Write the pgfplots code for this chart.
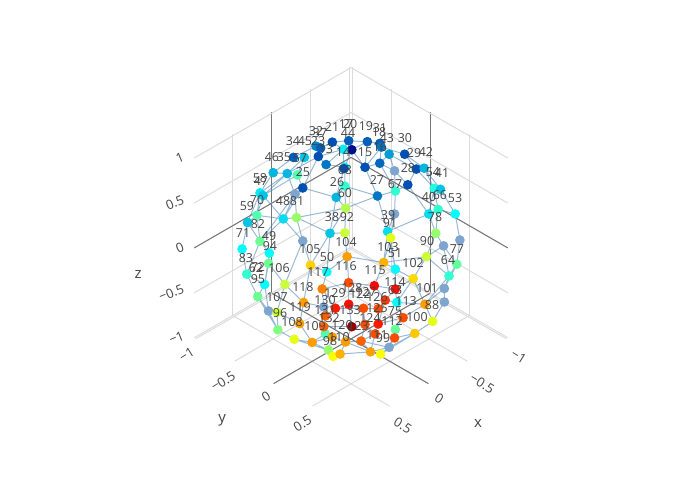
\documentclass[border=0pt]{standalone}
\usepackage{fontspec}
\setmainfont{Open Sans}
\usepackage{pgfplots}
\pgfplotsset{compat=1.18}
\definecolor{txt}{HTML}{444444}
\definecolor{gridc}{HTML}{DCDCDC}
\definecolor{zeroc}{HTML}{777777}
\definecolor{edgec}{RGB}{70,130,180}
\definecolor{steel}{RGB}{125,165,205}
\begin{document}
\begin{tikzpicture}
\begin{axis}[
  x={(-38.89pt,-22.45pt)}, y={(38.89pt,-22.45pt)}, z={(0pt,44.91pt)},
  xmin=-1.02, xmax=0.995, ymin=-1.02, ymax=0.995, zmin=-1.001, zmax=1.02,
  xtick={-1,-0.5,0,0.5}, xticklabels={−1,−0.5,0,0.5},
  ytick={-1,-0.5,0,0.5}, yticklabels={−1,−0.5,0,0.5},
  ztick={-1,-0.5,0,0.5,1}, zticklabels={−1,−0.5,0,0.5,1},
  extra x ticks={0}, extra x tick labels={}, extra x tick style={major grid style={zeroc,line width=0.5pt}},
  extra y ticks={0}, extra y tick labels={}, extra y tick style={major grid style={zeroc,line width=0.5pt}},
  extra z ticks={0}, extra z tick labels={}, extra z tick style={major grid style={zeroc,line width=0.5pt}},
  grid=major, major grid style={gridc, line width=0.5pt},
  axis line style={draw=none}, major tick length=0pt,
  ticklabel style={font=\fontsize{6.5}{7.5}\selectfont, text=txt},
  x tick label style={rotate=-32, xshift=2pt},
  y tick label style={rotate=32},
  z tick label style={rotate=22},
  clip=false,
  colormap={pjet}{rgb255(0cm)=(0,0,131); rgb255(1cm)=(0,60,170); rgb255(3cm)=(5,255,255); rgb255(5cm)=(255,255,0); rgb255(7cm)=(250,0,0); rgb255(8cm)=(128,0,0)},
  point meta min=0, point meta max=1,
]
% mesh edges
\addplot3[edgec, opacity=0.55, line width=0.5pt, mark=none, unbounded coords=jump] table {
x y z
0.31 -0.69 0.66
0.14 -0.60 0.79
-0.06 -0.51 0.86
-0.01 -0.40 0.92
-0.18 -0.42 0.89
-0.29 -0.32 0.90
-0.40 -0.19 0.90
-0.52 -0.15 0.84
-0.42 -0.03 0.91
-0.62 0.07 0.78
-0.68 0.26 0.69
-0.68 0.47 0.56
-0.75 0.59 0.31
-0.67 0.73 0.13
-0.49 0.87 0.02
-0.23 0.97 -0.07
-0.28 0.92 -0.27
-0.19 0.86 -0.47
0.05 0.87 -0.48
0.26 0.64 -0.72
0.44 0.69 -0.58
0.63 0.49 -0.61
0.60 0.37 -0.71
0.72 0.43 -0.55
0.83 0.10 -0.54
0.87 -0.07 -0.50
0.96 -0.24 -0.17
0.88 -0.46 -0.07
0.78 -0.62 0.08
0.72 -0.61 0.35
0.53 -0.64 0.57
0.31 -0.69 0.66
nan nan nan
0.38 -0.44 0.81
0.13 -0.29 0.95
0.19 -0.13 0.97
-0.08 -0.18 0.98
-0.13 -0.12 0.98
-0.01 0.17 0.99
-0.18 0.19 0.96
-0.37 0.12 0.93
-0.52 0.32 0.79
-0.56 0.51 0.65
-0.42 0.70 0.58
-0.27 0.73 0.62
-0.24 0.85 0.48
-0.29 0.90 0.34
-0.30 0.96 0.03
0.04 0.99 -0.10
0.28 0.95 -0.15
0.33 0.90 -0.28
0.30 0.86 -0.41
0.28 0.77 -0.57
0.59 0.72 -0.37
0.69 0.62 -0.38
0.78 0.54 -0.32
0.82 0.49 -0.29
0.83 0.33 -0.46
0.94 0.28 -0.22
0.98 0.03 -0.20
0.96 -0.10 -0.26
0.99 -0.12 0.04
0.96 -0.10 0.27
0.93 -0.12 0.36
0.88 -0.29 0.38
0.72 -0.49 0.49
0.58 -0.55 0.61
0.38 -0.44 0.81
nan nan nan
0.49 -0.13 0.86
0.41 0.22 0.89
0.28 0.20 0.94
0.12 0.46 0.88
-0.07 0.50 0.86
0.09 0.65 0.76
0.24 0.71 0.67
0.31 0.88 0.37
0.35 0.92 0.19
0.45 0.89 0.10
0.51 0.86 0.02
0.50 0.85 -0.16
0.50 0.81 -0.29
0.60 0.78 -0.15
0.69 0.70 -0.17
0.85 0.50 -0.19
0.85 0.52 -0.06
0.86 0.51 0.04
0.94 0.33 0.04
0.98 0.13 0.16
0.80 0.18 0.58
0.75 -0.12 0.65
0.56 -0.16 0.81
0.49 -0.13 0.86
nan nan nan
0.42 0.35 0.84
0.55 0.47 0.69
0.63 0.58 0.52
0.69 0.66 0.30
0.72 0.69 0.09
0.62 0.78 0.04
0.80 0.60 0.04
0.85 0.48 0.22
0.79 0.48 0.38
0.85 0.33 0.41
0.64 0.37 0.68
0.42 0.35 0.84
nan nan nan
-0.29 -0.32 0.90
-0.13 -0.12 0.98
0.12 0.04 0.99
0.28 0.20 0.94
0.42 0.35 0.84
nan nan nan
0.63 0.58 0.52
0.39 0.81 0.45
0.52 0.82 0.26
0.69 0.66 0.30
nan nan nan
0.72 0.69 0.09
0.69 0.70 -0.17
0.69 0.62 -0.38
0.63 0.49 -0.61
nan nan nan
-0.18 -0.42 0.89
-0.08 -0.18 0.98
0.14 0.05 0.99
0.41 0.22 0.89
0.64 0.37 0.68
0.79 0.48 0.38
0.85 0.48 0.22
0.86 0.51 0.04
0.85 0.52 -0.06
0.85 0.50 -0.19
0.78 0.54 -0.32
0.72 0.43 -0.55
nan nan nan
-0.01 -0.40 0.92
0.13 -0.29 0.95
0.49 -0.13 0.86
0.75 -0.12 0.65
0.80 0.18 0.58
0.85 0.33 0.41
0.94 0.33 0.04
0.94 0.28 -0.22
0.83 0.33 -0.46
0.83 0.10 -0.54
nan nan nan
0.14 -0.60 0.79
0.16 -0.44 0.88
0.38 -0.44 0.81
0.56 -0.16 0.81
0.88 -0.29 0.38
0.93 -0.12 0.36
0.96 -0.10 0.27
0.98 0.13 0.16
0.98 0.03 -0.20
0.87 -0.07 -0.50
nan nan nan
-0.40 -0.19 0.90
-0.01 0.17 0.99
0.12 0.46 0.88
0.24 0.71 0.67
0.39 0.81 0.45
0.52 0.82 0.26
0.45 0.89 0.10
0.50 0.85 -0.16
0.50 0.81 -0.29
0.44 0.69 -0.58
nan nan nan
-0.42 -0.03 0.91
-0.18 0.19 0.96
-0.07 0.50 0.86
0.09 0.65 0.76
0.24 0.75 0.62
0.31 0.88 0.37
0.35 0.92 0.19
0.35 0.94 0.05
0.28 0.95 -0.15
0.33 0.90 -0.28
0.28 0.77 -0.57
0.26 0.64 -0.72
nan nan nan
-0.62 0.07 0.78
-0.52 0.32 0.79
-0.24 0.49 0.84
-0.27 0.73 0.62
-0.24 0.85 0.48
-0.04 0.93 0.36
0.16 0.96 0.23
0.04 0.99 -0.10
-0.19 0.86 -0.47
0.05 0.87 -0.48
nan nan nan
-0.68 0.26 0.69
-0.56 0.51 0.65
-0.42 0.70 0.58
-0.75 0.59 0.31
nan nan nan
-0.29 0.90 0.34
-0.49 0.87 0.02
-0.30 0.96 0.03
-0.23 0.97 -0.07
nan nan nan
0.53 -0.64 0.57
0.72 -0.49 0.49
0.72 -0.61 0.35
0.88 -0.29 0.38
0.88 -0.46 -0.07
0.99 -0.12 0.04
0.96 -0.24 -0.17
0.96 -0.10 -0.26
0.87 -0.07 -0.50
nan nan nan
0.58 -0.55 0.61
0.75 -0.12 0.65
0.71 0.01 0.71
0.42 0.35 0.84
nan nan nan
0.16 -0.44 0.88
0.39 -0.30 0.87
0.49 -0.13 0.86
nan nan nan
0.51 0.86 0.02
0.62 0.78 0.04
0.60 0.78 -0.15
0.59 0.72 -0.37
0.44 0.69 -0.58
nan nan nan
0.30 0.86 -0.41
0.05 0.87 -0.48
nan nan nan
-0.37 0.12 0.93
-0.23 0.33 0.92
-0.24 0.49 0.84
nan nan nan
0.24 0.75 0.62
0.39 0.81 0.45
-0.04 0.93 0.36
-0.29 0.90 0.34
nan nan nan
0.16 0.96 0.23
0.35 0.94 0.05
0.04 0.99 -0.10
nan nan nan
0.71 0.01 0.71
0.80 0.18 0.58
nan nan nan
0.85 0.50 -0.19
0.69 0.70 -0.17
nan nan nan
0.82 0.49 -0.29
0.85 0.52 -0.06
nan nan nan
-0.06 -0.51 0.86
0.13 -0.29 0.95
-0.08 -0.18 0.98
-0.29 -0.32 0.90
nan nan nan
-0.40 -0.19 0.90
-0.13 -0.12 0.98
-0.01 0.17 0.99
-0.42 -0.03 0.91
nan nan nan
0.19 -0.13 0.97
0.12 0.04 0.99
0.28 0.20 0.94
0.41 0.22 0.89
0.42 0.35 0.84
0.64 0.37 0.68
nan nan nan
0.31 -0.69 0.66
0.38 -0.44 0.81
0.53 -0.64 0.57
0.58 -0.55 0.61
0.39 -0.30 0.87
0.49 -0.13 0.86
0.56 -0.16 0.81
nan nan nan
0.72 -0.49 0.49
0.75 -0.12 0.65
0.88 -0.29 0.38
nan nan nan
0.93 -0.12 0.36
0.99 -0.12 0.04
0.96 -0.10 0.27
nan nan nan
0.98 0.13 0.16
0.94 0.33 0.04
0.86 0.51 0.04
nan nan nan
0.96 -0.10 -0.26
0.98 0.03 -0.20
0.94 0.28 -0.22
nan nan nan
0.87 -0.07 -0.50
0.83 0.10 -0.54
0.72 0.43 -0.55
0.83 0.33 -0.46
0.78 0.54 -0.32
nan nan nan
0.85 0.52 -0.06
0.80 0.60 0.04
0.51 0.86 0.02
nan nan nan
0.69 0.70 -0.17
0.60 0.78 -0.15
0.62 0.78 0.04
0.72 0.69 0.09
nan nan nan
0.52 0.82 0.26
0.35 0.92 0.19
0.16 0.96 0.23
0.31 0.88 0.37
0.39 0.81 0.45
nan nan nan
-0.04 0.93 0.36
0.16 0.96 0.23
nan nan nan
0.45 0.89 0.10
0.35 0.94 0.05
0.28 0.95 -0.15
0.50 0.85 -0.16
0.50 0.81 -0.29
nan nan nan
0.50 0.81 -0.29
0.59 0.72 -0.37
0.69 0.62 -0.38
0.44 0.69 -0.58
0.28 0.77 -0.57
0.05 0.87 -0.48
nan nan nan
-0.23 0.97 -0.07
0.04 0.99 -0.10
-0.19 0.86 -0.47
-0.28 0.92 -0.27
nan nan nan
-0.24 0.85 0.48
-0.29 0.90 0.34
-0.04 0.93 0.36
-0.30 0.96 0.03
nan nan nan
-0.27 0.73 0.62
0.24 0.71 0.67
0.24 0.75 0.62
nan nan nan
-0.24 0.49 0.84
-0.07 0.50 0.86
-0.23 0.33 0.92
-0.18 0.19 0.96
nan nan nan
-0.56 0.51 0.65
-0.27 0.73 0.62
nan nan nan
-0.42 0.70 0.58
-0.24 0.85 0.48
nan nan nan
0.56 -0.16 0.81
0.71 0.01 0.71
0.64 0.37 0.68
0.55 0.47 0.69
nan nan nan
0.79 0.48 0.38
0.63 0.58 0.52
nan nan nan
0.85 0.48 0.22
0.69 0.66 0.30
nan nan nan
0.12 0.46 0.88
0.42 0.35 0.84
};
% light steel-blue markers
\addplot3[only marks, mark=*, mark size=2.2pt, mark options={draw=steel, fill=steel}] table {
x y z
-0.23 0.33 0.92
0.56 -0.16 0.81
0.09 0.65 0.76
-0.67 0.73 0.13
-0.29 0.90 0.34
0.80 0.18 0.58
0.96 -0.10 -0.26
0.86 0.51 0.04
-0.23 0.97 -0.07
-0.28 0.92 -0.27
0.28 0.77 -0.57
};
% coloured markers
\addplot3[scatter, only marks, mark=*, mark size=2.2pt, scatter src=explicit,
  scatter/use mapped color={draw=mapped color, fill=mapped color}] table[x=x, y=y, z=z, meta=c] {
x y z c
-0.18 -0.42 0.89 0.15
-0.29 -0.32 0.90 0.17
-0.13 -0.12 0.98 0.03
-0.06 -0.51 0.86 0.22
-0.01 -0.40 0.92 0.17
-0.08 -0.18 0.98 0.35
-0.40 -0.19 0.90 0.17
-0.52 -0.15 0.84 0.17
-0.42 -0.03 0.91 0.20
0.14 -0.60 0.79 0.17
0.16 -0.44 0.88 0.30
0.13 -0.29 0.95 0.15
-0.37 0.12 0.93 0.25
-0.62 0.07 0.78 0.15
0.19 -0.13 0.97 0.20
0.12 0.04 0.99 0.35
0.14 0.05 0.99 0.15
-0.01 0.17 0.99 0.15
-0.18 0.19 0.96 0.18
-0.52 0.32 0.79 0.15
-0.68 0.26 0.69 0.28
0.31 -0.69 0.66 0.28
0.38 -0.44 0.81 0.28
0.39 -0.30 0.87 0.45
0.49 -0.13 0.86 0.15
0.28 0.20 0.94 0.42
-0.24 0.49 0.84 0.15
-0.07 0.50 0.86 0.42
-0.56 0.51 0.65 0.40
-0.68 0.47 0.56 0.30
0.41 0.22 0.89 0.28
0.12 0.46 0.88 0.20
0.53 -0.64 0.57 0.35
0.58 -0.55 0.61 0.30
0.42 0.35 0.84 0.55
-0.27 0.73 0.62 0.33
-0.42 0.70 0.58 0.42
-0.75 0.59 0.31 0.37
0.72 -0.49 0.49 0.45
0.72 -0.61 0.35 0.30
0.75 -0.12 0.65 0.33
0.71 0.01 0.71 0.52
0.64 0.37 0.68 0.30
0.55 0.47 0.69 0.57
0.24 0.71 0.67 0.33
-0.24 0.85 0.48 0.52
0.24 0.75 0.62 0.60
0.88 -0.29 0.38 0.48
0.78 -0.62 0.08 0.37
0.93 -0.12 0.36 0.37
0.96 -0.10 0.27 0.48
0.88 -0.46 -0.07 0.42
0.99 -0.12 0.04 0.37
0.98 0.13 0.16 0.57
0.96 -0.24 -0.17 0.48
0.98 0.03 -0.20 0.57
0.87 -0.07 -0.50 0.50
0.94 0.28 -0.22 0.72
0.83 0.10 -0.54 0.60
0.83 0.33 -0.46 0.72
0.82 0.49 -0.29 0.45
0.78 0.54 -0.32 0.72
0.72 0.43 -0.55 0.52
0.60 0.37 -0.71 0.62
0.63 0.49 -0.61 0.70
0.94 0.33 0.04 0.72
0.85 0.48 0.22 0.75
0.85 0.52 -0.06 0.78
0.85 0.50 -0.19 0.78
0.80 0.60 0.04 0.85
0.72 0.69 0.09 0.86
0.69 0.66 0.30 0.80
0.85 0.33 0.41 0.67
0.79 0.48 0.38 0.37
0.63 0.58 0.52 0.72
0.69 0.70 -0.17 0.98
0.69 0.62 -0.38 0.72
0.39 0.81 0.45 0.70
0.31 0.88 0.37 0.37
-0.04 0.93 0.36 0.57
-0.49 0.87 0.02 0.47
-0.30 0.96 0.03 0.42
0.16 0.96 0.23 0.66
0.04 0.99 -0.10 0.72
-0.19 0.86 -0.47 0.60
0.05 0.87 -0.48 0.68
0.52 0.82 0.26 0.87
0.35 0.92 0.19 0.86
0.35 0.94 0.05 0.37
0.45 0.89 0.10 0.82
0.51 0.86 0.02 0.80
0.62 0.78 0.04 0.80
0.28 0.95 -0.15 0.80
0.50 0.85 -0.16 0.85
0.60 0.78 -0.15 0.80
0.33 0.90 -0.28 0.47
0.30 0.86 -0.41 0.80
0.50 0.81 -0.29 0.80
0.59 0.72 -0.37 0.78
0.44 0.69 -0.58 0.72
0.26 0.64 -0.72 0.62
};
% vertex labels
\addplot3[only marks, mark=*, mark size=0pt, mark options={draw=none, fill=none},
  point meta=explicit symbolic, nodes near coords, nodes near coords align={center},
  every node near coord/.append style={font=\fontsize{6.2}{7}\selectfont, text=txt, inner sep=0pt}]
  table[x=x, y=y, z=z, meta=l] {
x y z l
-0.213 -0.663 0.876 32
-0.231 -0.629 0.861 37
-0.331 -0.575 0.905 21
-0.432 -0.496 0.928 17
-0.458 -0.470 0.928 20
-0.552 -0.360 0.913 19
-0.635 -0.263 0.898 31
-0.614 -0.254 0.868 18
-0.411 -0.449 0.861 44
-0.643 -0.181 0.824 43
-0.759 -0.065 0.824 30
-0.028 -0.774 0.802 34
-0.105 -0.697 0.802 45
-0.189 -0.613 0.802 23
-0.210 -0.532 0.742 13
-0.309 -0.411 0.720 14
-0.450 -0.270 0.720 15
-0.565 -0.193 0.757 16
0.167 -0.849 0.683 46
0.090 -0.772 0.683 35
-0.010 -0.666 0.675 57
-0.761 0.049 0.713 29
-0.842 0.122 0.720 42
-0.254 -0.332 0.586 68
-0.667 0.065 0.601 28
-0.813 0.241 0.572 54
-0.867 0.303 0.564 41
0.023 -0.595 0.572 25
0.322 -0.848 0.527 58
0.327 -0.831 0.505 47
-0.159 -0.339 0.497 26
-0.423 -0.089 0.512 27
-0.524 0.042 0.482 67
-0.169 -0.247 0.416 60
0.422 -0.786 0.364 70
0.509 -0.829 0.319 59
0.259 -0.615 0.356 48
0.169 -0.525 0.356 81
-0.694 0.308 0.386 40
-0.772 0.372 0.401 66
-0.858 0.480 0.379 53
0.505 -0.691 0.186 82
0.003 -0.241 0.238 38
-0.093 -0.145 0.238 92
-0.364 0.112 0.252 39
-0.347 0.155 0.193 91
-0.659 0.421 0.238 78
0.635 -0.753 0.119 71
0.479 -0.575 0.096 49
0.006 -0.058 0.052 104
-0.245 0.231 0.015 103
-0.519 0.459 0.059 90
-0.681 0.681 0.000 77
0.264 -0.264 0.000 105
0.510 -0.532 0.022 94
0.708 -0.642 -0.067 83
0.184 -0.124 -0.059 50
0.095 0.031 -0.126 116
-0.268 0.298 -0.030 51
-0.347 0.451 -0.104 102
-0.583 0.665 -0.082 64
-0.076 0.232 -0.156 115
0.297 -0.127 -0.171 117
0.682 -0.540 -0.141 62
0.665 -0.531 -0.134 72
0.534 -0.392 -0.141 106
0.709 -0.487 -0.223 95
0.450 -0.168 -0.282 118
0.654 -0.298 -0.356 107
0.266 0.060 -0.327 129
0.139 0.151 -0.289 128
0.064 0.256 -0.319 127
0.109 0.225 -0.334 122
-0.161 0.405 -0.245 114
-0.131 0.435 -0.304 63
-0.344 0.634 -0.289 101
0.011 0.345 -0.356 126
0.356 0.022 -0.379 130
0.543 -0.113 -0.430 119
0.694 -0.218 -0.475 96
-0.161 0.547 -0.386 113
-0.313 0.729 -0.416 88
0.052 0.386 -0.438 125
-0.053 0.513 -0.460 75
0.393 0.059 -0.453 131
0.232 0.220 -0.453 133
-0.172 0.676 -0.505 100
0.134 0.378 -0.512 124
0.003 0.531 -0.534 112
0.397 0.115 -0.512 132
0.650 -0.108 -0.542 108
0.517 0.055 -0.571 109
0.340 0.224 -0.564 120
0.241 0.331 -0.571 123
0.404 0.250 -0.653 110
0.476 0.206 -0.683 98
0.152 0.486 -0.638 111
0.124 0.536 -0.661 99
};
% axis titles
\node[font=\fontsize{7.5}{8.5}\selectfont, text=txt] at (axis cs:-0.170,1.462,-1.292) {x};
\node[font=\fontsize{7.5}{8.5}\selectfont, text=txt] at (axis cs:1.464,-0.194,-1.270) {y};
\node[font=\fontsize{7.5}{8.5}\selectfont, text=txt] at (axis cs:1.462,-1.276,-0.186) {z};
\coordinate (O) at (axis cs:0,0,0);
\end{axis}
\pgfresetboundingbox
\path[use as bounding box] ([shift={(-175.5pt,-125.5pt)}]O) rectangle ([shift={(174.5pt,124.5pt)}]O);
\end{tikzpicture}
\end{document}
